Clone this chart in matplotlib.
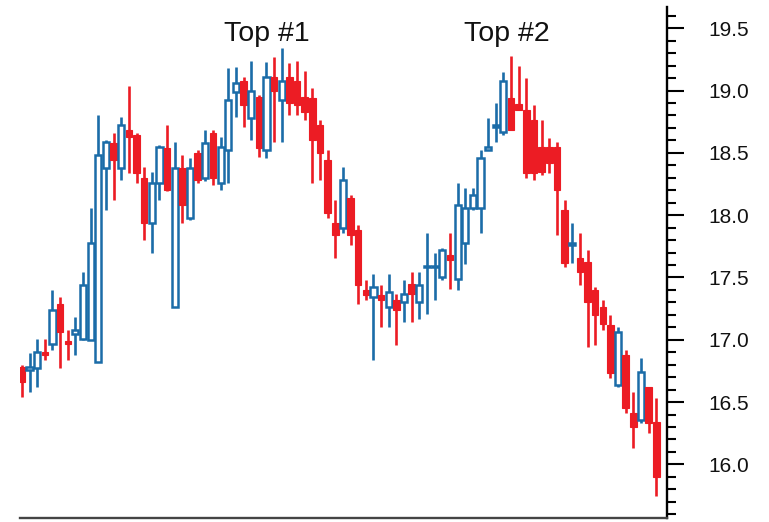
import matplotlib

matplotlib.use("Agg")

import matplotlib.pyplot as plt
from matplotlib.ticker import MultipleLocator

plt.rcParams["font.family"] = ["Liberation Sans", "DejaVu Sans"]

# OHLC values, one entry per session
opens = [
    16.78, 16.76, 16.77, 16.90, 16.97, 17.29, 16.99, 17.05, 17.01, 17.00,
    16.82, 18.38, 18.58, 18.38, 18.68, 18.64, 18.30, 17.94, 18.26, 18.54,
    17.26, 18.38, 17.98, 18.50, 18.30, 18.66, 18.26, 18.52, 18.99, 19.08,
    18.78, 18.95, 18.52, 19.11, 18.92, 19.11, 19.08, 18.95, 18.94, 18.72,
    18.44, 17.94, 17.90, 18.14, 17.88, 17.40, 17.34, 17.36, 17.26, 17.32,
    17.30, 17.45, 17.30, 17.58, 17.58, 17.50, 17.68, 17.49, 17.78, 18.06,
    18.06, 18.52, 18.71, 18.67, 18.94, 18.89, 18.84, 18.76, 18.55, 18.55,
    18.55, 18.04, 17.76, 17.66, 17.62, 17.40, 17.26, 17.12, 16.64, 16.88,
    16.41, 16.36, 16.62, 16.34,
]
highs = [
    16.80, 16.89, 17.01, 17.01, 17.40, 17.34, 17.08, 17.18, 17.54, 18.06,
    18.80, 18.60, 18.66, 18.79, 19.04, 18.66, 18.39, 18.35, 18.56, 18.72,
    18.59, 18.48, 18.46, 18.52, 18.68, 18.68, 18.63, 19.18, 19.19, 19.11,
    19.24, 18.96, 19.23, 19.27, 19.34, 19.22, 19.24, 19.16, 19.02, 18.76,
    18.52, 18.12, 18.39, 18.16, 17.92, 17.48, 17.53, 17.44, 17.53, 17.37,
    17.48, 17.54, 17.54, 17.86, 17.70, 17.74, 17.86, 18.26, 18.22, 18.22,
    18.52, 18.78, 18.90, 19.15, 19.28, 19.20, 19.10, 18.88, 18.76, 18.62,
    18.59, 18.12, 17.94, 17.86, 17.72, 17.42, 17.32, 17.20, 17.10, 16.92,
    16.58, 16.85, 16.62, 16.53,
]
lows = [
    16.54, 16.58, 16.62, 16.84, 16.92, 16.77, 16.84, 16.88, 17.00, 17.00,
    16.82, 18.04, 18.12, 18.28, 18.34, 18.26, 17.80, 17.70, 18.12, 18.19,
    17.26, 17.94, 17.96, 18.26, 18.27, 18.24, 18.20, 18.26, 18.79, 18.71,
    18.60, 18.47, 18.46, 18.59, 18.59, 18.80, 18.80, 18.76, 18.26, 18.28,
    17.98, 17.66, 17.86, 17.76, 17.29, 17.32, 16.84, 17.10, 17.10, 16.96,
    17.14, 17.14, 17.17, 17.21, 17.32, 17.48, 17.41, 17.40, 17.61, 18.04,
    17.86, 18.52, 18.59, 18.64, 18.68, 18.84, 18.30, 18.28, 18.32, 18.34,
    17.84, 17.58, 17.62, 17.44, 16.94, 16.96, 17.08, 16.69, 16.62, 16.41,
    16.13, 16.33, 16.25, 15.75,
]
closes = [
    16.66, 16.78, 16.90, 16.88, 17.24, 17.06, 16.97, 17.08, 17.44, 17.78,
    18.48, 18.59, 18.44, 18.72, 18.63, 18.34, 17.94, 18.26, 18.55, 18.20,
    18.38, 18.08, 18.38, 18.28, 18.58, 18.30, 18.55, 18.92, 19.06, 18.88,
    19.00, 18.54, 19.11, 19.00, 19.08, 18.90, 18.88, 18.83, 18.60, 18.50,
    18.02, 17.84, 18.28, 17.84, 17.44, 17.36, 17.42, 17.32, 17.38, 17.24,
    17.37, 17.37, 17.44, 17.59, 17.59, 17.72, 17.64, 18.08, 18.06, 18.16,
    18.46, 18.55, 18.72, 19.08, 18.68, 18.84, 18.34, 18.34, 18.35, 18.42,
    18.20, 17.62, 17.78, 17.54, 17.30, 17.20, 17.13, 16.73, 17.06, 16.45,
    16.30, 16.74, 16.33, 15.90,
]

# annotation labels and the session index they sit above
top_labels = ["Top #1", "Top #2"]
top_sessions = [32.1, 63.4]
top_level = 19.40

UP_COLOR = "#1b6ca8"
DOWN_COLOR = "#ec1c24"

fig = plt.figure(figsize=(7.69, 5.22), dpi=100)
ax = fig.add_axes([20 / 769, 4 / 522, 647 / 769, 511 / 522])

for i, (o, h, l, c) in enumerate(zip(opens, highs, lows, closes)):
    up = c >= o
    color = UP_COLOR if up else DOWN_COLOR
    z = 2 + i * 0.01
    ax.vlines(i, l, h, color=color, linewidth=1.9, zorder=z)
    body_low = min(o, c)
    body_h = max(abs(c - o), 0.012)
    if up:
        ax.bar(i, body_h, bottom=body_low, width=0.8, facecolor="white",
               edgecolor=color, linewidth=1.8, zorder=z + 0.005)
    else:
        ax.bar(i, body_h, bottom=body_low, width=0.85, facecolor=color,
               edgecolor=color, linewidth=0.8, zorder=z + 0.005)

for label, x in zip(top_labels, top_sessions):
    ax.text(x, top_level, label, ha="center", va="baseline", fontsize=20.5, color="#111111")

ax.set_xlim(-0.25, len(opens) + 0.4)
ax.set_ylim(15.57, 19.67)

ax.yaxis.tick_right()
ax.yaxis.set_major_locator(MultipleLocator(0.5))
ax.yaxis.set_minor_locator(MultipleLocator(0.1))
ax.yaxis.set_major_formatter(lambda v, _: f"{v:.1f}")
ax.tick_params(axis="y", which="major", direction="out", length=12, width=1.5,
               pad=18, labelsize=15, colors="black", labelcolor="#111111")
ax.tick_params(axis="y", which="minor", direction="out", length=6.5, width=1.5)
ax.set_xticks([])

for side in ("left", "top"):
    ax.spines[side].set_visible(False)
ax.spines["right"].set_linewidth(1.7)
ax.spines["bottom"].set_linewidth(1.7)
ax.spines["bottom"].set_color("#444444")

fig.savefig("out.png", dpi=100)
